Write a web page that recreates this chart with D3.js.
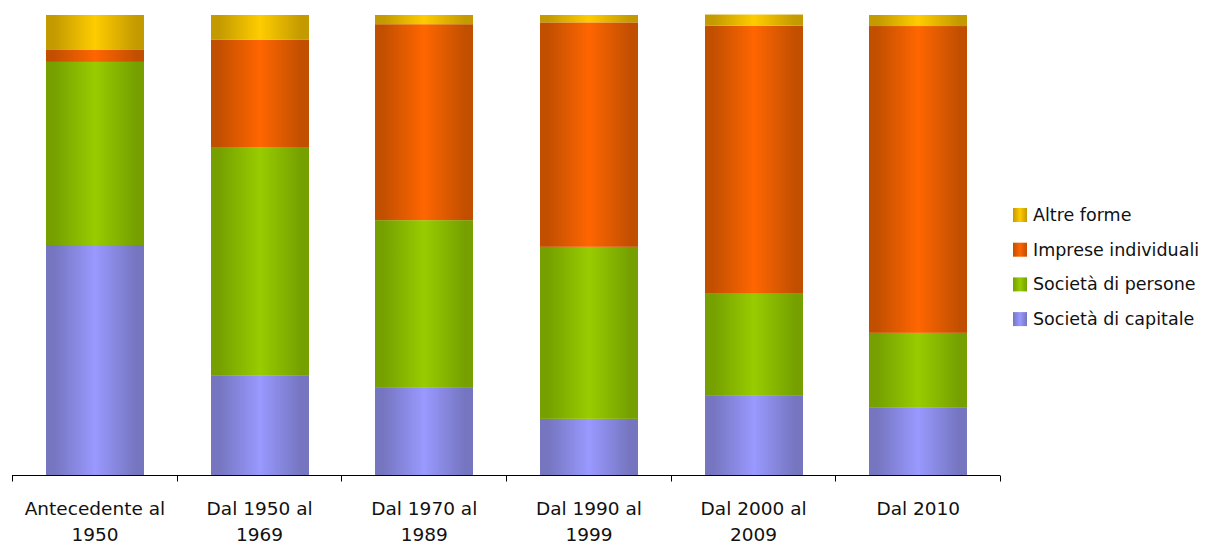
<!DOCTYPE html>
<html>
<head>
<meta charset="utf-8">
<script src="https://cdn.jsdelivr.net/npm/d3@7"></script>
<style>
  html, body { margin: 0; padding: 0; background: #fff; }
  svg { display: block; }
  text { font-family: "DejaVu Sans", sans-serif; fill: #111; }
</style>
</head>
<body>
<svg id="chart" width="1211" height="543"></svg>
<script>
const categories = [
  ["Antecedente al", "1950"],
  ["Dal 1950 al", "1969"],
  ["Dal 1970 al", "1989"],
  ["Dal 1990 al", "1999"],
  ["Dal 2000 al", "2009"],
  ["Dal 2010"]
];
const seriesNames = ["Società di capitale", "Società di persone", "Imprese individuali", "Altre forme"];
const societaCapitale   = [50.0, 21.7, 19.1, 12.2, 17.2, 14.6];
const societaPersone    = [39.8, 49.6, 36.3, 37.4, 22.2, 16.3];
const impreseIndividuali = [2.6, 23.3, 42.6, 48.8, 58.3, 66.7];
const altreForme        = [7.6,  5.4,  2.0,  1.6,  2.4,  2.4];

const colors = {
  "Società di capitale": ["#7575C0", "#9999FF"],
  "Società di persone": ["#75A000", "#99CC00"],
  "Imprese individuali": ["#C24F00", "#FF6600"],
  "Altre forme": ["#C39A00", "#FFCC00"]
};

const rows = categories.map((c, i) => ({
  key: i,
  "Società di capitale": societaCapitale[i],
  "Società di persone": societaPersone[i],
  "Imprese individuali": impreseIndividuali[i],
  "Altre forme": altreForme[i]
}));

const svg = d3.select("#chart");
const margin = { left: 12, right: 211, top: 15, bottom: 68 };
const W = 1211, H = 543;
const x = d3.scaleBand().domain(d3.range(categories.length)).range([margin.left, W - margin.right]).paddingInner(0).paddingOuter(0);
const y = d3.scaleLinear().domain([0, 100]).range([H - margin.bottom, margin.top]);
const barW = 98;

const defs = svg.append("defs");
seriesNames.forEach((s, i) => {
  const g = defs.append("linearGradient").attr("id", "grad" + i).attr("x1", "0").attr("x2", "1").attr("y1", "0").attr("y2", "0");
  g.append("stop").attr("offset", "0").attr("stop-color", colors[s][0]);
  g.append("stop").attr("offset", "0.08").attr("stop-color", colors[s][0]);
  g.append("stop").attr("offset", "0.5").attr("stop-color", colors[s][1]);
  g.append("stop").attr("offset", "0.92").attr("stop-color", colors[s][0]);
  g.append("stop").attr("offset", "1").attr("stop-color", colors[s][0]);
  const lg = defs.append("linearGradient").attr("id", "lgrad" + i).attr("x1", "0").attr("x2", "1");
  lg.append("stop").attr("offset", "0").attr("stop-color", colors[s][0]);
  lg.append("stop").attr("offset", "0.5").attr("stop-color", colors[s][1]);
  lg.append("stop").attr("offset", "1").attr("stop-color", colors[s][0]);
});

const stacked = d3.stack().keys(seriesNames)(rows);

svg.append("g").selectAll("g").data(stacked).join("g")
  .attr("fill", (d, i) => `url(#grad${i})`)
  .selectAll("rect").data(d => d).join("rect")
  .attr("x", d => Math.round(x(d.data.key) + (x.bandwidth() - barW) / 2 + 0.6))
  .attr("width", barW)
  .attr("y", d => y(d[1]))
  .attr("height", d => y(d[0]) - y(d[1]));

// x axis
const axis = d3.axisBottom(x).tickSize(0).tickFormat("");
const ax = svg.append("g").attr("transform", `translate(0,${y(0) + 0.5})`).call(axis);
ax.select(".domain").attr("stroke", "#000").attr("d", `M${margin.left},0H${W - margin.right}`);
const bounds = d3.range(categories.length + 1).map(i => margin.left + i * x.step());
ax.selectAll(".btick").data(bounds).join("line")
  .attr("class", "btick")
  .attr("x1", d => Math.round(d) + 0.5).attr("x2", d => Math.round(d) + 0.5)
  .attr("y1", 0).attr("y2", 6).attr("stroke", "#000");

// labels
const lbl = svg.append("g").selectAll("text").data(categories).join("text")
  .attr("text-anchor", "middle")
  .attr("font-size", 18.5)
  .attr("x", (d, i) => x(i) + x.bandwidth() / 2 + 0.6)
  .attr("y", 515);
lbl.selectAll("tspan").data(d => d).join("tspan")
  .attr("x", function() { return d3.select(this.parentNode).attr("x"); })
  .attr("dy", (d, i) => i === 0 ? 0 : 26)
  .text(d => d);

// legend
const legendOrder = seriesNames.slice().reverse();
const lg = svg.append("g").selectAll("g").data(legendOrder).join("g")
  .attr("transform", (d, i) => `translate(1013,${214 + i * 34.7})`);
lg.append("rect").attr("x", 0).attr("y", -6).attr("width", 14).attr("height", 14)
  .attr("fill", d => `url(#lgrad${seriesNames.indexOf(d)})`);
lg.append("text").attr("x", 20).attr("y", 7).attr("font-size", 17.5).text(d => d);
</script>
</body>
</html>
